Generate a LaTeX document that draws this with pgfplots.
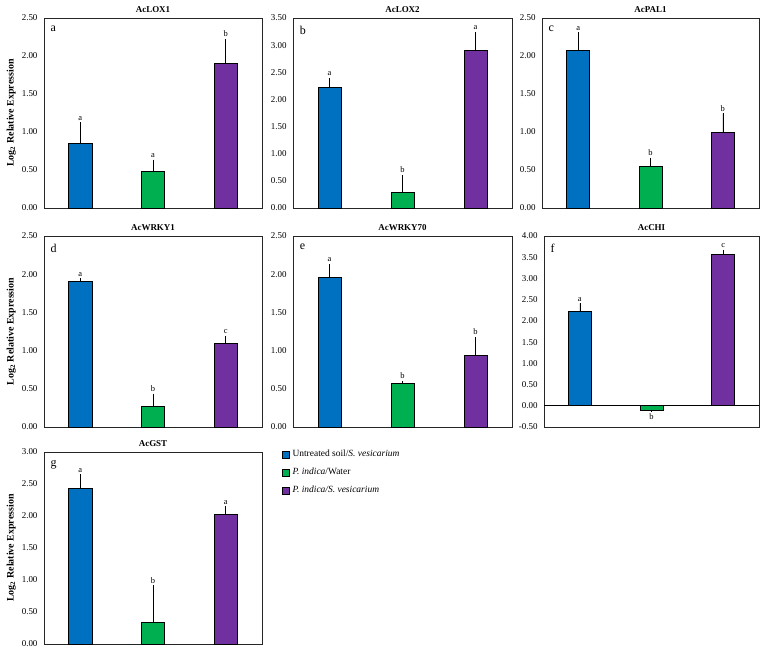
\documentclass[border=0pt]{standalone}
\usepackage{fontspec}
\setmainfont{Liberation Serif}
\usepackage{pgfplots}
\pgfplotsset{compat=1.18}
\definecolor{cblue}{HTML}{0070C0}
\definecolor{cgreen}{HTML}{00B050}
\definecolor{cpurple}{HTML}{7030A0}
\pgfplotsset{
 panel/.style={scale only axis, anchor=south west, xmin=-0.5, xmax=2.5, xtick=\empty, ymin=0,
   ytick distance=0.5, axis line style={black!85, line width=0.6pt}, ytick style={draw=none},
   yticklabel style={font=\fontsize{9}{10}\selectfont, xshift=-3bp, /pgf/number format/.cd, fixed, fixed zerofill, precision=2, assume math mode=true},
   title style={font=\bfseries\fontsize{9}{10}\selectfont, yshift=-4pt},
   ylabel style={font=\bfseries\fontsize{10}{11}\selectfont, yshift=-1pt},
   ybar, bar width=0.32, bar shift=0pt, clip=false,
   legend image code/.code={\draw[#1,draw=black,line width=0.5pt] (0pt,-3.4pt) rectangle (6.8pt,3.4pt);}},
 bb/.style={fill=#1, draw=black, line width=0.6pt, error bars/y dir=plus, error bars/y explicit, error bars/error mark=none, error bars/error bar style={black, line width=0.6pt}},
}
\tikzset{
 lbl/.style={anchor=south, font=\fontsize{8.5}{9}\selectfont, inner sep=1pt, yshift=1pt},
 plbl/.style={anchor=north west, font=\fontsize{12}{12}\selectfont, inner sep=0pt},
}
\begin{document}
\begin{tikzpicture}
\useasboundingbox (0bp,0bp) rectangle (767bp,653bp);
% a
\begin{axis}[panel, at={(44bp,445bp)}, width=218bp, height=190bp, ymax=2.5, title={AcLOX1}, ylabel={Log\textsubscript{2} Relative Expression}]
\addplot[bb=cblue] coordinates {(0,0.845) +- (0,0.28)};
\addplot[bb=cgreen] coordinates {(1,0.486) +- (0,0.149)};
\addplot[bb=cpurple] coordinates {(2,1.909) +- (0,0.31)};
\node[lbl] at (axis cs:0,1.125) {a};
\node[lbl] at (axis cs:1,0.635) {a};
\node[lbl] at (axis cs:2,2.22) {b};
\node[plbl] at (rel axis cs:0.03,0.96) {a};
\end{axis}
% b
\begin{axis}[panel, at={(293bp,445bp)}, width=219bp, height=190bp, ymax=3.5, title={AcLOX2}]
\addplot[bb=cblue] coordinates {(0,2.22) +- (0,0.17)};
\addplot[bb=cgreen] coordinates {(1,0.294) +- (0,0.31)};
\addplot[bb=cpurple] coordinates {(2,2.91) +- (0,0.33)};
\node[lbl] at (axis cs:0,2.39) {a};
\node[lbl] at (axis cs:1,0.604) {b};
\node[lbl] at (axis cs:2,3.24) {a};
\node[plbl] at (rel axis cs:0.03,0.96) {b};
\end{axis}
% c
\begin{axis}[panel, at={(542bp,445bp)}, width=217bp, height=190bp, ymax=2.5, title={AcPAL1}]
\addplot[bb=cblue] coordinates {(0,2.08) +- (0,0.23)};
\addplot[bb=cgreen] coordinates {(1,0.543) +- (0,0.114)};
\addplot[bb=cpurple] coordinates {(2,0.994) +- (0,0.25)};
\node[lbl] at (axis cs:0,2.31) {a};
\node[lbl] at (axis cs:1,0.657) {b};
\node[lbl] at (axis cs:2,1.244) {b};
\node[plbl] at (rel axis cs:0.03,0.96) {c};
\end{axis}
% d
\begin{axis}[panel, at={(44bp,226bp)}, width=218bp, height=191bp, ymax=2.5, title={AcWRKY1}, ylabel={Log\textsubscript{2} Relative Expression}]
\addplot[bb=cblue] coordinates {(0,1.91) +- (0,0.035)};
\addplot[bb=cgreen] coordinates {(1,0.275) +- (0,0.158)};
\addplot[bb=cpurple] coordinates {(2,1.10) +- (0,0.093)};
\node[lbl] at (axis cs:0,1.945) {a};
\node[lbl] at (axis cs:1,0.433) {b};
\node[lbl] at (axis cs:2,1.193) {c};
\node[plbl] at (rel axis cs:0.03,0.96) {d};
\end{axis}
% e
\begin{axis}[panel, at={(293bp,226bp)}, width=219bp, height=191bp, ymax=2.5, title={AcWRKY70}]
\addplot[bb=cblue] coordinates {(0,1.954) +- (0,0.176)};
\addplot[bb=cgreen] coordinates {(1,0.573) +- (0,0.027)};
\addplot[bb=cpurple] coordinates {(2,0.94) +- (0,0.236)};
\node[lbl] at (axis cs:0,2.13) {a};
\node[lbl] at (axis cs:1,0.60) {b};
\node[lbl] at (axis cs:2,1.176) {b};
\node[plbl] at (rel axis cs:0.03,0.96) {e};
\end{axis}
% f
\begin{axis}[panel, at={(544bp,226bp)}, width=215bp, height=191bp, ymin=-0.5, ymax=4, title={AcCHI}]
\addplot[black, line width=0.6pt, no marks, sharp plot, forget plot] coordinates {(-0.5,0) (2.5,0)};
\addplot[bb=cblue] coordinates {(0,2.22) +- (0,0.19)};
\addplot[bb=cgreen, error bars/y dir=minus] coordinates {(1,-0.11) +- (0,0.03)};
\addplot[bb=cpurple] coordinates {(2,3.565) +- (0,0.105)};
\node[lbl] at (axis cs:0,2.41) {a};
\node[lbl, anchor=north, yshift=-2pt] at (axis cs:1,-0.14) {b};
\node[lbl] at (axis cs:2,3.67) {c};
\node[plbl] at (rel axis cs:0.03,0.96) {f};
\end{axis}
% g
\begin{axis}[panel, at={(44bp,9bp)}, width=218bp, height=192bp, ymax=3, title={AcGST}, ylabel={Log\textsubscript{2} Relative Expression},
  legend style={at={(1.092,1.02)}, anchor=north west, draw=none, fill=none, font=\fontsize{9.5}{10}\selectfont, row sep=6pt, inner sep=0pt, legend cell align=left, /tikz/every odd column/.style={column sep=1pt}}]
\addplot[bb=cblue] coordinates {(0,2.44) +- (0,0.21)};
\addplot[bb=cgreen] coordinates {(1,0.344) +- (0,0.573)};
\addplot[bb=cpurple] coordinates {(2,2.03) +- (0,0.12)};
\node[lbl] at (axis cs:0,2.65) {a};
\node[lbl] at (axis cs:1,0.917) {b};
\node[lbl] at (axis cs:2,2.15) {a};
\node[plbl] at (rel axis cs:0.03,0.96) {g};
\legend{Untreated soil/\textit{S. vesicarium}, \textit{P. indica}/Water, \textit{P. indica/S. vesicarium}}
\end{axis}
\end{tikzpicture}
\end{document}
